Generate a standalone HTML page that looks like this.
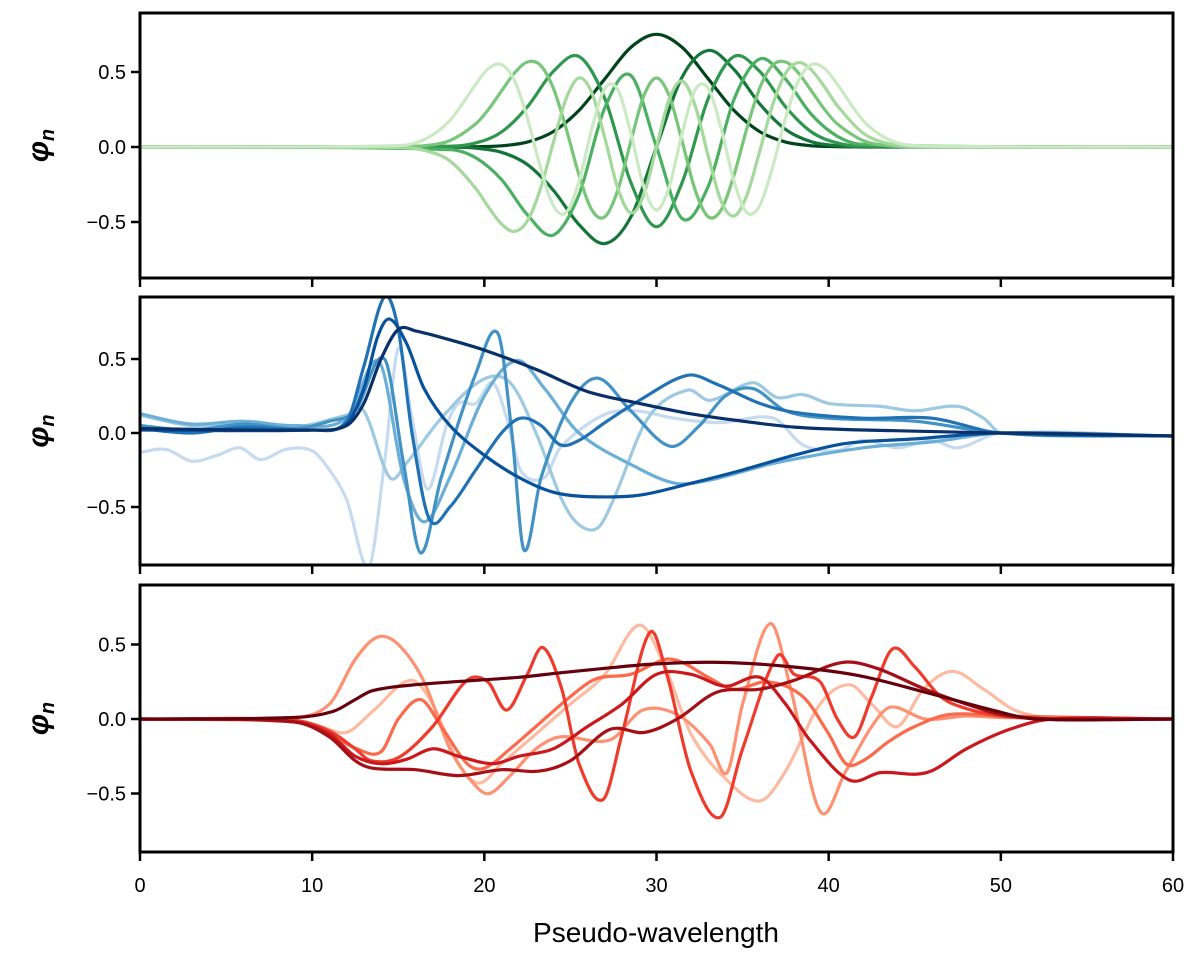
<!DOCTYPE html>
<html><head><meta charset="utf-8"><style>
body{margin:0;background:#fff;}
svg text{font-family:"Liberation Sans",sans-serif;}
</style></head><body>
<svg id="chart" width="1200" height="955" viewBox="0 0 1200 955" xmlns="http://www.w3.org/2000/svg"></svg>
<script>
// ---------- data ----------
const xTicks=[0,10,20,30,40,50,60];
const yTicks=[0.5,0,-0.5];
const yTickLabels=["0.5","0.0","\u22120.5"];
const greenXH=[0,18,19.5,21,22.5,24,25.5,27,28.5,30,31.5,33,34.5,36,37.5,39,40.5,42,60];
const greenXQ=[0,15,16.5,18,19.5,20.25,21,21.75,22.5,23.25,24,24.75,25.5,26.25,27,27.75,28.5,29.25,30,30.75,31.5,32.25,33,33.75,34.5,35.25,36,36.75,37.5,38.25,39,39.75,40.5,42,43.5,45,60];
const g0=[0,.0003,.0017,.0083,.033,.102,.244,.455,.663,.751,.663,.455,.244,.102,.033,.0083,.0017,.0003,0];
const g1=[0,-.0014,-.0082,-.035,-.117,-.287,-.517,-.644,-.469,0,.469,.644,.517,.287,.117,.035,.0082,.0014,0];
const g2=[0,.0055,.027,.100,.268,.503,.603,.322,-.234,-.531,-.234,.322,.603,.503,.268,.100,.027,.0055,0];
const g3=[0,-.017,-.072,-.217,-.452,-.587,-.317,.263,.478,0,-.478,-.263,.317,.587,.452,.217,.072,.017,0];
const g4=[0,.0012,.0086,.043,.154,.252,.373,.493,.567,.546,.394,.125,-.187,-.420,-.465,-.288,.034,.337,.460,.337,.034,-.288,-.465,-.420,-.187,.125,.394,.546,.567,.493,.373,.252,.154,.043,.0086,.0012,0];
const g5=[0,-.0036,-.022,-.093,-.276,-.402,-.513,-.563,-.492,-.282,.026,.321,.460,.360,.059,-.275,-.439,-.323,0,.323,.439,.275,-.059,-.360,-.460,-.321,-.026,.282,.492,.563,.513,.402,.276,.093,.022,.0036,0];
const g6=[0,.0093,.049,.177,.418,.524,.549,.443,.193,-.132,-.390,-.438,-.228,.124,.391,.382,.096,-.261,-.420,-.261,.096,.382,.391,.124,-.228,-.438,-.390,-.132,.193,.443,.549,.524,.418,.177,.049,.0093,0];
const b0=[[0,.03],[10,.02],[12,.05],[13,.2],[14,.5],[15,.7],[16,.69],[18,.63],[20,.56],[23,.43],[26,.28],[29,.2],[32,.13],[35,.08],[38,.04],[42,.02],[50,0],[60,-.02]];
const b1=[[0,.02],[10,.02],[12,.06],[13,.3],[13.8,.65],[14.5,.77],[15.5,.6],[16.5,.3],[18,.05],[20,-.15],[22,-.3],[24,-.4],[26,-.43],[29,-.42],[32,-.34],[35,-.25],[38,-.15],[41,-.07],[45,-.04],[50,0],[60,-.02]];
const b2=[[0,.03],[3,.0],[6,.04],[10,.02],[12,.08],[13,.45],[14.2,.92],[15,.7],[15.8,0],[16.8,-.58],[18,-.5],[19.5,-.25],[21,0],[22.1,.1],[23.3,.05],[24.4,-.08],[25.5,-.05],[27,.07],[29,.22],[31.8,.39],[33.5,.33],[36,.2],[38,.14],[42,.1],[46,.1],[50,0],[60,-.02]];
const b3=[[0,.05],[3,.02],[6,.06],[9,.03],[11,.08],[12.5,.15],[14.2,.5],[15.3,-.2],[16.3,-.81],[17.5,-.3],[19.5,.4],[20.8,.67],[21.6,0],[22.3,-.79],[23.3,-.3],[25,.2],[26.6,.37],[28.5,.15],[30.8,-.09],[32.5,.05],[34,.25],[35.6,.3],[37.5,.15],[40,.1],[45,.08],[50,0],[60,-.02]];
const b4=[[0,.13],[3,.06],[6,.08],[9,.05],[12,.1],[13.9,.48],[15.3,-.3],[16.5,-.6],[18,-.3],[20,.25],[21.9,.49],[23.5,.3],[25.5,0],[28.8,-.23],[31.1,-.34],[33,-.32],[37,-.2],[42,-.1],[46,-.06],[50,0],[60,-.02]];
const b5=[[0,.12],[3,.05],[6,.07],[9,.04],[12,.12],[13,.15],[14.5,-.3],[15.5,-.2],[17.5,.1],[19.9,.36],[21.5,.34],[23,0],[24.5,-.45],[25.5,-.62],[26.6,-.64],[27.5,-.45],[29.5,.1],[31.8,.29],[33.1,.22],[35.6,.34],[37,.24],[38.5,.26],[40,.2],[43,.18],[45,.15],[47.5,.18],[49,.1],[50,0],[60,-.02]];
const b6=[[0,-.13],[1.5,-.11],[3,-.19],[4.5,-.15],[5.8,-.1],[7,-.18],[8.5,-.11],[10,-.12],[11,-.25],[12,-.45],[13.3,-.9],[14.2,-.2],[15,.57],[15.8,.1],[16.7,-.38],[17.8,.05],[18.5,.2],[19.5,.2],[20.5,.34],[21.3,.1],[22.1,-.25],[23.5,-.3],[24.4,-.1],[26.9,.12],[28.8,.15],[31,.1],[33.7,.07],[36.8,.1],[38.5,-.08],[40.5,-.12],[42,-.05],[44,-.1],[46,-.05],[47.5,-.1],[50,0],[60,-.02]];
const r0=[[0,0],[9,.01],[11.2,.05],[12.5,.13],[13.5,.19],[16,.23],[22,.28],[24.4,.31],[27,.34],[30,.37],[33.7,.38],[37.9,.35],[41.8,.29],[45.6,.18],[49.5,.06],[52,0],[60,0]];
const r1=[[0,0],[9,-.02],[11,-.12],[12.5,-.28],[13.5,-.33],[16,-.34],[18.5,-.38],[21,-.34],[23.2,-.35],[25,-.28],[27.3,-.07],[29.3,-.09],[31.2,0],[33.5,.18],[36,.2],[38,.26],[40.8,.38],[42.8,.34],[45.6,.2],[48,.1],[50,.03],[53,0],[60,0]];
const r2=[[0,0],[9,-.02],[11,-.1],[12.5,-.25],[14,-.3],[15.5,-.27],[17,-.2],[18.5,-.25],[20.5,-.3],[22,-.25],[24,-.2],[26,-.05],[28,.1],[30,.3],[32,.3],[34,.22],[36,.28],[37.5,.1],[38.9,-.14],[41.2,-.41],[43,-.36],[45.7,-.36],[48,-.2],[50.5,-.07],[53,0],[60,0]];
const r3=[[0,0],[9,-.01],[11,-.08],[12.5,-.2],[13.4,-.28],[15,-.26],[17,-.05],[19,.26],[20.2,.25],[21.3,.06],[22.5,.3],[23.4,.48],[24.5,.2],[25.5,-.3],[26.9,-.54],[28,-.1],[29.6,.58],[30.6,.3],[32,-.35],[33.7,-.66],[35,-.2],[37,.42],[38,.3],[39.5,.25],[40.5,0],[41.5,-.12],[42.5,.15],[43.7,.47],[45,.35],[46.5,.15],[48,.07],[50,.02],[53,0],[60,0]];
const r4=[[0,0],[9,-.01],[11,-.1],[12.6,-.2],[14,-.22],[15,0],[16.3,.13],[17.5,-.05],[19,-.3],[20,-.33],[21.5,-.2],[23,-.05],[25,.15],[26.5,.27],[28.5,.3],[30.5,.4],[31.5,.38],[33,.28],[34.5,.2],[36.5,.25],[38.5,.15],[40,-.1],[41,-.3],[42,-.28],[43.5,-.15],[45,-.05],[47,.03],[50,.02],[60,0]];
const r5=[[0,0],[9,.01],[11,.1],[12.5,.4],[13.8,.55],[15,.5],[16.5,.25],[18,-.2],[19.5,-.45],[20.3,-.5],[21.5,-.38],[23,-.2],[24.4,-.12],[27.3,-.14],[29.2,.06],[31.2,.03],[33.1,-.17],[34.1,-.36],[35,.1],[36.6,.64],[37.8,.2],[39.5,-.62],[41,-.35],[42.5,-.05],[43.6,.08],[45.6,0],[48,.02],[50,.01],[60,0]];
const r6=[[0,0],[9,-.01],[10.5,-.05],[12,-.09],[13.5,.05],[15.7,.26],[17,.1],[18.5,-.3],[19.7,-.43],[21,-.3],[23,-.1],[25,.1],[27,.3],[29,.63],[30.5,.35],[32,-.1],[34,-.4],[36,-.55],[37.5,-.35],[39.5,.1],[41.2,.23],[42.5,.1],[44,-.05],[45.5,.2],[47.2,.32],[49,.2],[51,.05],[54,0],[60,0]];

const greenColors=["#00441b","#16763a","#2f974e","#4bb062","#78c679","#a4d99c","#cbeac4"];
const blueColors=["#08306b","#08519c","#2171b5","#4292c6","#6baed6","#9ecae1","#c6dbef"];
const redColors=["#67000d","#a50f15","#cb181d","#ef3b2c","#fb6a4a","#fc9272","#fcbba1"];

// ---------- drawing ----------
const NS="http://www.w3.org/2000/svg";
const svg=document.getElementById('chart');
const X0=140,X1=1173;
const panels=[{name:'green',top:13,bot:278,zero:147,k:150},{name:'blue',top:297,bot:565,zero:433,k:148},{name:'red',top:585,bot:852,zero:719,k:149}];
function xs(v){return X0+(v-0)/(60-0)*(X1-X0);}
function mk(tag,attrs,parent){const e=document.createElementNS(NS,tag);for(const a in attrs)e.setAttribute(a,attrs[a]);(parent||svg).appendChild(e);return e;}
function smoothPath(pts){
  const n=pts.length;
  const m=pts.map((p,i)=>{
    const a=pts[Math.max(0,i-1)],b=pts[Math.min(n-1,i+1)];
    return (b[1]-a[1])/(b[0]-a[0]);
  });
  let d='M'+pts[0][0].toFixed(1)+','+pts[0][1].toFixed(1);
  for(let i=0;i<n-1;i++){
    const p1=pts[i],p2=pts[i+1],dx=(p2[0]-p1[0])/3;
    d+='C'+(p1[0]+dx).toFixed(1)+','+(p1[1]+m[i]*dx).toFixed(1)+' '+(p2[0]-dx).toFixed(1)+','+(p2[1]-m[i+1]*dx).toFixed(1)+' '+p2[0].toFixed(1)+','+p2[1].toFixed(1);
  }
  return d;
}
const defs=mk('defs',{});
panels.forEach((p,pi)=>{
  const cp=mk('clipPath',{id:'clip'+pi},defs);
  mk('rect',{x:X0,y:p.top,width:X1-X0,height:p.bot-p.top},cp);
});
function drawSeries(pi,pts,color,name){
  const p=panels[pi];
  const px=pts.map(q=>[xs(q[0]),p.zero-q[1]*p.k]);
  const path=mk('path',{d:smoothPath(px),fill:'none',stroke:color,'stroke-width':3.2,'stroke-linejoin':'round','clip-path':'url(#clip'+pi+')'});
  
  
}
function zip(xa,ya){return xa.map((x,i)=>[x,ya[i]]);}
const greenSeries=[zip(greenXH,g0),zip(greenXH,g1),zip(greenXH,g2),zip(greenXH,g3),zip(greenXQ,g4),zip(greenXQ,g5),zip(greenXQ,g6)];
for(let i=0;i<7;i++)drawSeries(0,greenSeries[i],greenColors[i],'green-curve-'+i);
const blueSeries=[b0,b1,b2,b3,b4,b5,b6];
for(let i=6;i>=0;i--)drawSeries(1,blueSeries[i],blueColors[i],'blue-curve-'+i);
const redSeries=[r0,r1,r2,r3,r4,r5,r6];
for(let i=6;i>=0;i--)drawSeries(2,redSeries[i],redColors[i],'red-curve-'+i);

panels.forEach((p,pi)=>{
  const fr=mk('rect',{x:X0,y:p.top,width:X1-X0,height:p.bot-p.top,fill:'none',stroke:'#000','stroke-width':3});
  
  
  xTicks.forEach(v=>{
    const t=mk('line',{x1:xs(v),x2:xs(v),y1:p.bot,y2:p.bot+9,stroke:'#000','stroke-width':2.5});
    
    
  });
  yTicks.forEach((v,i)=>{
    const y=p.zero-v*p.k;
    const t=mk('line',{x1:X0-9,x2:X0,y1:y,y2:y,stroke:'#000','stroke-width':2.5});
    
    
    const tl=mk('text',{x:X0-14,y:y+7,'text-anchor':'end','font-size':20,fill:'#000'});
    tl.textContent=yTickLabels[i];
    
    
  });
  const yl=mk('text',{transform:'translate(48,'+((p.top+p.bot)/2)+') rotate(-90)','text-anchor':'middle','font-size':30,'font-style':'italic','font-weight':'bold',fill:'#000'});
  yl.innerHTML='φ<tspan font-size="20" dy="6">n</tspan>';
  
  
});
xTicks.forEach(v=>{
  const t=mk('text',{x:xs(v),y:892,'text-anchor':'middle','font-size':20,fill:'#000'});
  t.textContent=String(v);
  
  
});
const xt=mk('text',{x:656,y:942,'text-anchor':'middle','font-size':28,fill:'#000'});
xt.textContent='Pseudo-wavelength';


</script>
</body></html>
